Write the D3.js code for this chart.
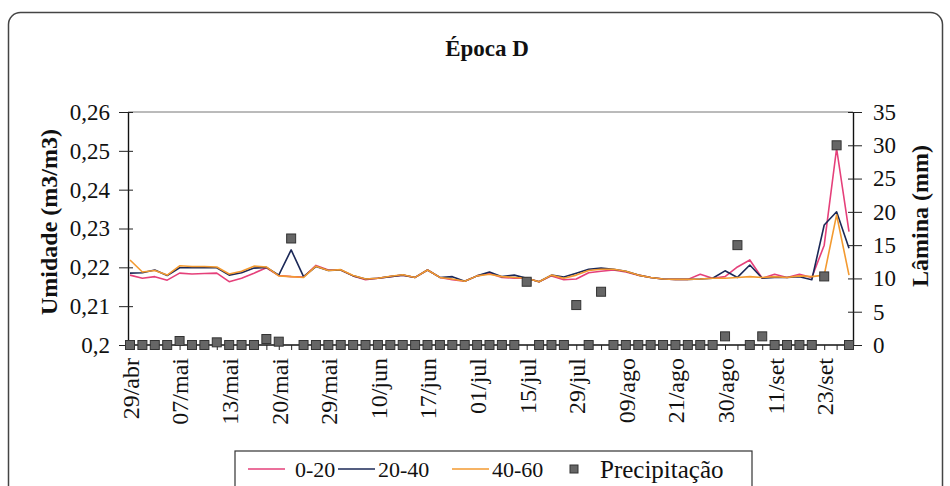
<!DOCTYPE html>
<meta charset="utf-8">
<script src="https://d3js.org/d3.v7.min.js"></script>
<style>
  body { margin: 0; background: #fff; }
  svg text { font-family: "Liberation Serif", "Times New Roman", Times, "DejaVu Serif", serif; fill: #111; }
</style>

<div id="chart"></div>

<script>
// Tick labels shown under every 4th category (59 categories in total).
var dateLabels = ["29/abr", "07/mai", "13/mai", "20/mai", "29/mai", "10/jun", "17/jun", "01/jul",
    "15/jul", "29/jul", "09/ago", "21/ago", "30/ago", "11/set", "23/set"];
var numCategories = 59;
var labelStep = 4;

var leftTicks = [0.2, 0.21, 0.22, 0.23, 0.24, 0.25, 0.26];
var rightTicks = [0, 5, 10, 15, 20, 25, 30, 35];

// Soil moisture (m3/m3) for each depth.
var u020 = [0.2180, 0.2172, 0.2176, 0.2167, 0.2185, 0.2183, 0.2184, 0.2185, 0.2163, 0.2172,
    0.2185, 0.2199, 0.2179, 0.2176, 0.2175, 0.2205, 0.2193, 0.2193, 0.2178, 0.2168,
    0.2172, 0.2176, 0.2180, 0.2174, 0.2193, 0.2174, 0.2168, 0.2164, 0.2178, 0.2185,
    0.2174, 0.2172, 0.2172, 0.2163, 0.2178, 0.2168, 0.2170, 0.2186, 0.2190, 0.2193,
    0.2188, 0.2180, 0.2174, 0.2170, 0.2169, 0.2169, 0.2182, 0.2172, 0.2176, 0.2201,
    0.2219, 0.2172, 0.2182, 0.2174, 0.2182, 0.2174, 0.2257, 0.2506, 0.2292];

var u2040 = [0.2185, 0.2186, 0.2193, 0.2179, 0.2199, 0.2199, 0.2199, 0.2199, 0.2180, 0.2186,
    0.2198, 0.2200, 0.2180, 0.2245, 0.2176, 0.2202, 0.2192, 0.2193, 0.2178, 0.2170,
    0.2172, 0.2176, 0.2180, 0.2174, 0.2193, 0.2174, 0.2176, 0.2164, 0.2178, 0.2188,
    0.2176, 0.2180, 0.2172, 0.2163, 0.2180, 0.2175, 0.2185, 0.2195, 0.2198, 0.2195,
    0.2190, 0.2180, 0.2174, 0.2170, 0.2169, 0.2169, 0.2170, 0.2172, 0.2191, 0.2174,
    0.2206, 0.2172, 0.2174, 0.2174, 0.2176, 0.2168, 0.2309, 0.2343, 0.2249];

var u4060 = [0.2219, 0.2188, 0.2192, 0.2180, 0.2204, 0.2202, 0.2202, 0.2201, 0.2183, 0.2190,
    0.2203, 0.2201, 0.2178, 0.2176, 0.2174, 0.2203, 0.2192, 0.2194, 0.2179, 0.2170,
    0.2172, 0.2177, 0.2181, 0.2174, 0.2193, 0.2174, 0.2170, 0.2164, 0.2178, 0.2182,
    0.2176, 0.2174, 0.2172, 0.2163, 0.2180, 0.2172, 0.2180, 0.2192, 0.2195, 0.2195,
    0.2190, 0.2180, 0.2174, 0.2170, 0.2169, 0.2169, 0.2170, 0.2172, 0.2172, 0.2174,
    0.2176, 0.2174, 0.2176, 0.2174, 0.2178, 0.2176, 0.2180, 0.2335, 0.2180];

// Rainfall (mm), right axis.
var prec = [0, 0, 0, 0, 0.6, 0, 0, 0.4, 0, 0,
    0, 0.9, 0.5, 16, 0, 0, 0, 0, 0, 0,
    0, 0, 0, 0, 0, 0, 0, 0, 0, 0,
    0, 0, 9.5, 0, 0, 0, 6, 0, 8, 0,
    0, 0, 0, 0, 0, 0, 0, 0, 1.3, 15,
    0, 1.3, 0, 0, 0, 0, 10.3, 30, 0];

var series = [
    { name: "0-20", values: u020, color: "#e5407a" },
    { name: "20-40", values: u2040, color: "#1b2857" },
    { name: "40-60", values: u4060, color: "#f39a30" }
];

var width = 950;
var height = 486;
var plot = { left: 128, right: 853, top: 112, bottom: 345 };
var serif = "'Liberation Serif', 'Times New Roman', Times, 'DejaVu Serif', serif";

var x = d3.scalePoint().domain(d3.range(numCategories)).range([130, 849]);
var yL = d3.scaleLinear().domain([0.2, 0.26]).range([plot.bottom, plot.top]);
var yR = d3.scaleLinear().domain([0, 35]).range([plot.bottom, plot.top]);

var comma = d3.formatLocale({ decimal: ",", thousands: ".", grouping: [3], currency: ["", ""] }).format(".2~f");

var svg = d3.select("#chart").append("svg")
    .attr("width", width)
    .attr("height", height)
    .style("font-family", serif);

// Outer frame of the chart.
svg.append("rect")
    .attr("x", 8.5).attr("y", 12.5)
    .attr("width", 934).attr("height", 500)
    .attr("rx", 12)
    .attr("fill", "#fff")
    .attr("stroke", "#444")
    .attr("stroke-width", 1.5);

svg.append("text")
    .attr("x", 487).attr("y", 56)
    .attr("text-anchor", "middle")
    .style("font-size", "23px")
    .style("font-weight", "bold")
    .text("Época D");

// Top border of the plot area.
svg.append("line")
    .attr("x1", plot.left).attr("x2", plot.right)
    .attr("y1", plot.top).attr("y2", plot.top)
    .attr("stroke", "#777")
    .attr("stroke-width", 1);

// Left axis, ticks crossing the line.
var gLeft = svg.append("g")
    .attr("transform", "translate(" + plot.left + ",0)")
    .call(d3.axisLeft(yL).tickValues(leftTicks).tickFormat(comma).tickSizeInner(9).tickSizeOuter(0).tickPadding(9));
gLeft.selectAll(".tick line").attr("x2", -9).attr("x1", 5);

// Right axis.
var gRight = svg.append("g")
    .attr("transform", "translate(" + plot.right + ",0)")
    .call(d3.axisRight(yR).tickValues(rightTicks).tickSizeInner(9).tickSizeOuter(0).tickPadding(11));
gRight.selectAll(".tick line").attr("x2", 9).attr("x1", -5);

// Bottom axis: a tick per category, a date every 4th one.
var gBottom = svg.append("g")
    .attr("transform", "translate(0," + plot.bottom + ")")
    .call(d3.axisBottom(x).tickSizeInner(5).tickSizeOuter(0)
        .tickFormat(function(i) { return i % labelStep === 0 ? dateLabels[i / labelStep] : ""; }));
gBottom.select(".domain").attr("d", "M" + plot.left + ",0H" + plot.right);

svg.selectAll("g").attr("font-family", serif);
svg.selectAll(".domain").attr("stroke", "#111").attr("stroke-width", 1.4);
svg.selectAll(".tick line").attr("stroke", "#222");
svg.selectAll(".tick text")
    .style("font-size", "23px")
    .attr("fill", "#111");

gBottom.selectAll(".tick text")
    .attr("transform", "rotate(-90)")
    .attr("text-anchor", "end")
    .attr("x", -13)
    .attr("y", 0)
    .attr("dy", "0.35em")
    .style("font-size", "24px");

// Axis titles.
svg.append("text")
    .attr("transform", "translate(49,222) rotate(-90)")
    .attr("text-anchor", "middle")
    .attr("dy", "0.35em")
    .style("font-size", "24px")
    .style("font-weight", "bold")
    .text("Umidade (m3/m3)");

svg.append("text")
    .attr("transform", "translate(920,216) rotate(-90)")
    .attr("text-anchor", "middle")
    .attr("dy", "0.35em")
    .style("font-size", "24px")
    .style("font-weight", "bold")
    .text("Lâmina (mm)");

// Moisture lines.
var line = d3.line()
    .x(function(d, i) { return x(i); })
    .y(function(d) { return yL(d); });

svg.append("g").selectAll("path")
    .data(series)
    .enter().append("path")
    .attr("d", function(d) { return line(d.values); })
    .attr("fill", "none")
    .attr("stroke", function(d) { return d.color; })
    .attr("stroke-width", 1.6)
    .attr("stroke-linejoin", "round");

// Rainfall squares on top.
var sq = 9;
svg.append("g").selectAll("rect")
    .data(prec)
    .enter().append("rect")
    .attr("x", function(d, i) { return x(i) - sq / 2; })
    .attr("y", function(d) { return yR(d) - sq / 2; })
    .attr("width", sq)
    .attr("height", sq)
    .attr("fill", "#666")
    .attr("stroke", "#333")
    .attr("stroke-width", 1);

// Legend.
var legend = svg.append("g").attr("transform", "translate(235,451)");
legend.append("rect")
    .attr("width", 517).attr("height", 40)
    .attr("fill", "#fff")
    .attr("stroke", "#333")
    .attr("stroke-width", 1.2);

var legendItems = [
    { name: "0-20", color: "#e5407a", x: 13, tx: 47, type: "line" },
    { name: "20-40", color: "#1b2857", x: 103, tx: 40, type: "line" },
    { name: "40-60", color: "#f39a30", x: 217, tx: 40, type: "line" },
    { name: "Precipitação", color: "#666", x: 335, tx: 30, type: "square" }
];

var item = legend.selectAll(".item")
    .data(legendItems)
    .enter().append("g")
    .attr("class", "item")
    .attr("transform", function(d) { return "translate(" + d.x + ",18)"; });

item.filter(function(d) { return d.type === "line"; })
    .append("line")
    .attr("x1", 0).attr("x2", 37)
    .attr("stroke", function(d) { return d.color; })
    .attr("stroke-width", 1.6);

item.filter(function(d) { return d.type === "square"; })
    .append("rect")
    .attr("x", 0).attr("y", -4)
    .attr("width", 8).attr("height", 8)
    .attr("fill", "#666")
    .attr("stroke", "#333");

item.append("text")
    .attr("x", function(d) { return d.tx; })
    .attr("dy", "0.35em")
    .style("font-size", function(d) { return d.type === "square" ? "25px" : "22px"; })
    .text(function(d) { return d.name; });
</script>
